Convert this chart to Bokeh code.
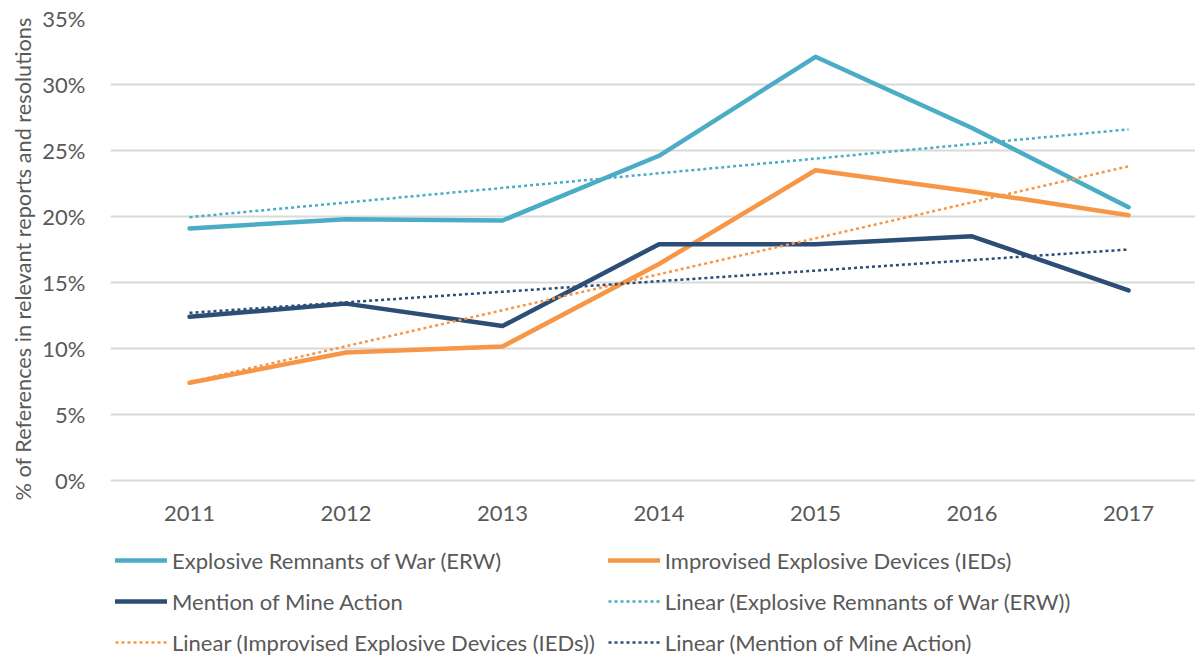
from bokeh.plotting import figure
from bokeh.models import Legend, LegendItem, FixedTicker, Range1d, Title
from bokeh.embed import file_html
from bokeh.resources import INLINE

# ---- data ----
years = [2011, 2012, 2013, 2014, 2015, 2016, 2017]
erw = [19.1, 19.8, 19.7, 24.6, 32.1, 26.7, 20.7]
ieds = [7.4, 9.7, 10.15, 16.4, 23.5, 21.9, 20.1]
mine = [12.4, 13.4, 11.7, 17.9, 17.9, 18.5, 14.4]

trend_years = [2011, 2017]
erw_trend = [19.95, 26.6]
ieds_trend = [7.45, 23.8]
mine_trend = [12.7, 17.5]

y_ticks = [0, 5, 10, 15, 20, 25, 30, 35]
y_tick_labels = ["0%", "5%", "10%", "15%", "20%", "25%", "30%", "35%"]

series_names = [
    "Explosive Remnants of War (ERW)",
    "Improvised Explosive Devices (IEDs)",
    "Mention of Mine Action",
    "Linear (Explosive Remnants of War (ERW))",
    "Linear (Improvised Explosive Devices (IEDs))",
    "Linear (Mention of Mine Action)",
]
y_title = "% of References in relevant reports and resolutions"

C_ERW = "#4bacc6"
C_IED = "#f79646"
C_MINE = "#2c4d75"
TXT = "#595959"
FONT = "Lato"

# frame spans from the 35% line down to the bottom of the legend area;
# the lower part of the y range hosts the x labels and the legend
p = figure(
    width=1195, height=656,
    min_border_left=110, min_border_right=0, min_border_top=18, min_border_bottom=0,
    x_range=Range1d(2010.495, 2017.428), y_range=Range1d(-13.333, 35),
    output_backend="svg", toolbar_location=None,
)
p.outline_line_color = None
p.background_fill_color = "white"
p.border_fill_color = "white"

p.xgrid.grid_line_color = None
p.ygrid.grid_line_color = "#d9d9d9"
p.ygrid.grid_line_width = 2
p.ygrid.ticker = FixedTicker(ticks=y_ticks)

p.yaxis.ticker = FixedTicker(ticks=y_ticks)
p.yaxis.major_label_overrides = {t: l for t, l in zip(y_ticks, y_tick_labels)}
p.xaxis.ticker = FixedTicker(ticks=years)
p.xaxis.major_label_overrides = {y: str(y) for y in years}
p.xaxis.fixed_location = 0

for ax in (p.xaxis[0], p.yaxis[0]):
    ax.axis_line_color = None
    ax.major_tick_line_color = None
    ax.minor_tick_line_color = None
    ax.major_tick_out = 0
    ax.major_tick_in = 0
    ax.major_label_text_font = FONT
    ax.major_label_text_font_size = "22px"
    ax.major_label_text_color = TXT

p.yaxis.major_label_standoff = 25
p.xaxis.major_label_standoff = 25

ytitle = Title(
    text=y_title, align="left", offset=156, standoff=8,
    text_font=FONT, text_font_size="21.7px", text_font_style="normal", text_color=TXT,
)
p.add_layout(ytitle, "left")

r_erw = p.line(years, erw, line_color=C_ERW, line_width=4.5, line_cap="round", line_join="round")
r_ied = p.line(years, ieds, line_color=C_IED, line_width=4.5, line_cap="round", line_join="round")
r_mine = p.line(years, mine, line_color=C_MINE, line_width=4.5, line_cap="round", line_join="round")

r_erw_t = p.line(trend_years, erw_trend, line_color=C_ERW, line_width=2.5, line_dash="3 3")
r_ied_t = p.line(trend_years, ieds_trend, line_color=C_IED, line_width=2.5, line_dash="3 3")
r_mine_t = p.line(trend_years, mine_trend, line_color=C_MINE, line_width=2.5, line_dash="3 3")

legend = Legend(
    items=[
        LegendItem(label=series_names[0], renderers=[r_erw]),
        LegendItem(label=series_names[1], renderers=[r_ied]),
        LegendItem(label=series_names[2], renderers=[r_mine]),
        LegendItem(label=series_names[3], renderers=[r_erw_t]),
        LegendItem(label=series_names[4], renderers=[r_ied_t]),
        LegendItem(label=series_names[5], renderers=[r_mine_t]),
    ],
    location=(5, 0), orientation="horizontal", ncols=2,
    padding=0, margin=0, spacing=13,
    border_line_color=None, background_fill_alpha=0,
    glyph_width=52, glyph_height=28, label_height=28, label_standoff=5,
    label_text_font=FONT, label_text_font_size="22px", label_text_color=TXT,
)
p.add_layout(legend)

open("out.html", "w").write(file_html(p, INLINE))
